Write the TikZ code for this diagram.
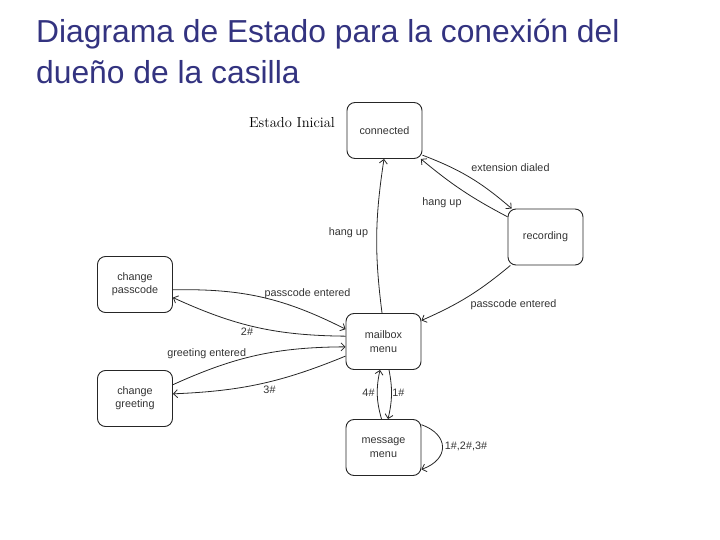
\documentclass[tikz,border=0pt]{standalone}
\usepackage{fontspec}
\newfontfamily\sansfont{Liberation Sans}
\usetikzlibrary{arrows.meta}
\definecolor{titleblue}{RGB}{51,51,128}
\newcommand{\diagfont}{\sansfont\fontsize{10.8}{13.3}\selectfont}
\begin{document}
\begin{tikzpicture}[
  x=1pt, y=-1pt,
  state/.style={draw=black!85, line width=0.9pt, rounded corners=8pt, minimum width=75pt, minimum height=56pt, align=center, font=\diagfont, text=black!80},
  trans/.style={->, line width=0.8pt, black!85},
  lbl/.style={font=\diagfont, text=black!80, inner sep=0pt},
  >={Straight Barb[length=4pt,width=8pt]}
]
\useasboundingbox (0,0) rectangle (720,540);

% === Title ===
\node[anchor=base west, inner sep=0pt, text=titleblue, font=\sansfont\fontsize{31.8}{41}\selectfont] (title1) at (36,43) {Diagrama de Estado para la conexión del};
\node[anchor=base west, inner sep=0pt, text=titleblue, font=\sansfont\fontsize{31.8}{41}\selectfont] (title2) at (36,84) {dueño de la casilla};

% === States ===
\node[state] (conn) at (384.5,130.5) {connected};
\node[state] (rec) at (545.5,237) {recording};
\node[state] (pass) at (135,284.5) {change\\passcode};
\node[state] (mbox) at (383.5,341.5) {mailbox\\menu};
\node[state] (greet) at (135,398.5) {change\\greeting};
\node[state] (msg) at (383.5,447.5) {message\\menu};

% Initial state tag
\node[font=\fontsize{14.5}{16}\selectfont, inner sep=0pt] (init) at (292,123) {Estado Inicial};

% === Transitions ===
\draw[trans] (conn.-33) to[bend left=10] (rec.140);
\draw[trans] (rec.152) to[bend left=6] (conn.-38);
\draw[trans] (mbox.93) to[bend left=8] (conn.-91);
\draw[trans] (rec.219) to[bend left=8] (mbox.29);

\draw[trans] (pass.-8) to[bend left=14] (mbox.162);
\draw[trans] (mbox.172) to[bend left=12] (pass.-19);
\draw[trans] (greet.20) to[bend left=12] (mbox.188);
\draw[trans] (mbox.201) to[bend left=10] (greet.7);

\draw[trans] (mbox.-79) to[bend left=12] (msg.81);
\draw[trans] (msg.94) to[bend left=14] (mbox.-97);

% Self loop on message menu
\draw[trans] (msg.31) .. controls +(28,10) and +(28,-10) .. (msg.-30);

% === Labels ===
\node[lbl] (lext) at (510.5,168) {extension dialed};
\node[lbl] (lhang1) at (442,203) {hang up};
\node[lbl] (lhang2) at (348.5,233) {hang up};
\node[lbl] (lpass1) at (307.5,293.5) {passcode entered};
\node[lbl] (ltwo) at (247,331.5) {2\#};
\node[lbl] (lgreet) at (206.7,354) {greeting entered};
\node[lbl] (lthree) at (269.5,390) {3\#};
\node[lbl] (lpass2) at (513.5,305) {passcode entered};
\node[lbl] (lfour) at (368.5,392.5) {4\#};
\node[lbl] (lone) at (398.3,392.5) {1\#};
\node[lbl] (lloop) at (466,446.7) {1\#,2\#,3\#};

\end{tikzpicture}
\end{document}
